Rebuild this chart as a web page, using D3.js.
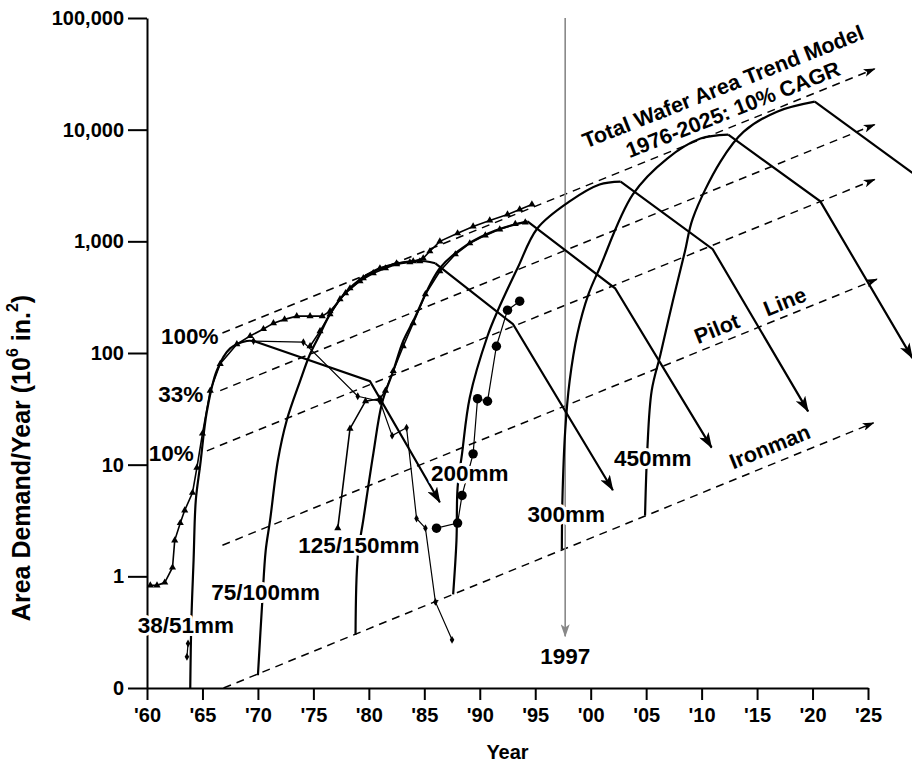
<!DOCTYPE html>
<html>
<head>
<meta charset="utf-8">
<script src="https://cdn.jsdelivr.net/npm/d3@7"></script>
<style>
  body { margin: 0; background: #fff; }
  text { font-family: "Liberation Sans", Arial, Helvetica, sans-serif; font-weight: bold; fill: #000; }
</style>
</head>
<body>
<div id="chart"></div>
<script>
// ---- data (year, area demand in 10^6 in.^2) ----
var yearTicks = [1960, 1965, 1970, 1975, 1980, 1985, 1990, 1995, 2000, 2005, 2010, 2015, 2020, 2025];
var yearLabels = ["'60", "'65", "'70", "'75", "'80", "'85", "'90", "'95", "'00", "'05", "'10", "'15", "'20", "'25"];
var valueTicks = [0.1, 1, 10, 100, 1000, 10000, 100000];
var valueLabels = ["0", "1", "10", "100", "1,000", "10,000", "100,000"];

// dashed 10% CAGR trend lines: start and end points
var trendNames = ["100%", "33%", "10%", "Pilot Line", "Ironman"];
var trendStart = [[1966.8, 151], [1966.6, 46], [1965.4, 13.3], [1966.8, 1.9], [1966.9, 0.1]];
var trendEnd = [[2025.6, 35000], [2025.6, 11100], [2025.6, 3580], [2025.8, 458], [2025.5, 23.7]];

// total wafer area (upper envelope, markers)
var totalData = [[1960.3, 0.83], [1960.9, 0.83], [1961.6, 0.88], [1962.3, 1.2], [1962.5, 2.1], [1963.0, 3.0],
  [1963.4, 3.9], [1964.1, 5.6], [1964.5, 9.4], [1965.0, 19], [1965.7, 46], [1966.6, 80], [1968.1, 120],
  [1969.3, 142], [1970.5, 164], [1971.4, 185], [1972.4, 200], [1973.5, 214], [1974.7, 214], [1975.8, 214],
  [1976.5, 237], [1977.9, 343], [1979.5, 468], [1981.0, 574], [1982.5, 636], [1984.0, 663], [1984.9, 705],
  [1985.5, 815], [1986.4, 1000], [1988.0, 1180], [1989.4, 1360], [1990.9, 1540], [1992.5, 1740],
  [1993.6, 1930], [1994.7, 2140]];

// model curves (rise) per wafer size
var rise3851 = [[1963.9, 0.1], [1964.0, 0.4], [1964.2, 1.4], [1964.4, 4.8], [1964.8, 10], [1965.4, 30],
  [1966.3, 70], [1967.5, 110], [1969.0, 128], [1969.6, 128]];
var rise75100 = [[1970.0, 0.13], [1970.4, 0.61], [1970.7, 1.7], [1971.1, 3.2], [1971.8, 10.9], [1972.6, 25],
  [1973.8, 56], [1974.7, 98], [1975.6, 148], [1976.5, 223], [1978.0, 358], [1980.4, 540], [1983.1, 649],
  [1985.1, 663], [1986.0, 636]];
var rise125150 = [[1978.8, 0.3], [1979.0, 1.5], [1979.5, 3.2], [1980.4, 12.5], [1981.2, 36], [1982.2, 69],
  [1983.1, 128], [1984.0, 193], [1986.4, 574], [1988.9, 940], [1991.4, 1250], [1994.3, 1510]];
var rise200 = [[1987.6, 0.69], [1987.9, 2.1], [1988.0, 6.2], [1988.4, 12.5], [1989.1, 40], [1990.7, 142],
  [1991.6, 237], [1993.4, 574], [1995.2, 1310], [1998.1, 2280], [2000.8, 3230], [2002.7, 3430]];
var rise300 = [[1997.4, 1.74], [1997.45, 4.8], [1997.7, 20], [1998.1, 56], [1998.8, 148], [1999.8, 336],
  [2000.8, 574], [2003.8, 2630], [2006.9, 5510], [2009.9, 8320], [2012.4, 9020]];
var rise450 = [[2004.9, 3.5], [2005.1, 13.3], [2005.5, 46], [2006.3, 98], [2007.4, 291], [2008.5, 815],
  [2009.2, 1600], [2011.7, 5180], [2013.8, 9600], [2016.8, 14500], [2020.2, 17800]];

// projected decline per wafer size
var fall3851 = [[1969.6, 128], [1980.1, 56], [1986.4, 4.6]];
var fall75100 = [[1986.0, 636], [1993.0, 181], [2002.0, 5.9]];
var fall125150 = [[1994.3, 1510], [2002.2, 380], [2010.9, 14.2]];
var fall200 = [[2002.7, 3430], [2011.0, 850], [2019.6, 30]];
var fall300 = [[2012.4, 9020], [2020.7, 2280], [2029.0, 90]];
var fall450 = [[2020.2, 17800], [2029.0, 4100]];

// actual data with markers
var data3851Start = [[1963.6, 0.19], [1963.7, 0.25]];
var data3851 = [[1969.6, 128], [1974.1, 125], [1979.0, 41], [1981.0, 37], [1982.1, 18.2], [1983.4, 21.4],
  [1984.3, 3.3], [1985.1, 2.7], [1986.0, 0.59], [1987.5, 0.27]];
var data75100 = [[1974.7, 115], [1975.6, 157], [1976.5, 223], [1977.4, 303], [1978.3, 380], [1979.2, 440],
  [1980.4, 518], [1981.5, 574], [1982.5, 625], [1983.7, 649], [1984.6, 663]];
var data125150 = [[1977.2, 2.7], [1978.3, 21], [1979.7, 37], [1981.0, 39], [1981.5, 46], [1982.2, 69],
  [1983.1, 115], [1984.0, 185], [1985.1, 336], [1986.4, 540], [1987.8, 766], [1989.1, 960], [1990.5, 1130],
  [1991.8, 1280], [1993.2, 1430], [1994.1, 1480]];
var data200 = [[1986.1, 2.7], [1988.0, 3.0], [1988.4, 5.3], [1989.4, 12.5], [1989.8, 39], [1990.7, 37],
  [1991.5, 115], [1992.5, 242], [1993.6, 291]];

var markYear = 1997.7;

// ---- chart ----
var svgWidth = 912;
var svgHeight = 765;
var margin = { top: 18, right: 44, bottom: 77, left: 147 };
var width = svgWidth - margin.left - margin.right;
var height = svgHeight - margin.top - margin.bottom;

var svg = d3.select("#chart")
  .append("svg")
  .attr("width", svgWidth)
  .attr("height", svgHeight);

var defs = svg.append("defs");
function arrowMarker(id, w, h, color) {
  defs.append("marker")
    .attr("id", id)
    .attr("viewBox", "0 0 " + w + " " + h)
    .attr("refX", w - 1)
    .attr("refY", h / 2)
    .attr("markerWidth", w)
    .attr("markerHeight", h)
    .attr("markerUnits", "userSpaceOnUse")
    .attr("orient", "auto")
    .append("path")
    .attr("d", "M0,0 L" + w + "," + (h / 2) + " L0," + h + " L" + (w * 0.25) + "," + (h / 2) + " Z")
    .attr("fill", color);
}
arrowMarker("arrowBig", 16, 11, "#000");
arrowMarker("arrowSmall", 12, 8, "#000");
arrowMarker("arrowGray", 13, 9, "#888");

var chartGroup = svg.append("g")
  .attr("transform", `translate(${margin.left}, ${margin.top})`);

var x = d3.scaleLinear().domain([1960, 2025]).range([0, width]);
var y = d3.scaleLog().domain([0.1, 100000]).range([height, 0]);

// axes
var bottomAxis = d3.axisBottom(x)
  .tickValues(yearTicks)
  .tickFormat((d, i) => yearLabels[i])
  .tickSize(12)
  .tickSizeOuter(0)
  .tickPadding(8);
var leftAxis = d3.axisLeft(y)
  .tickValues(valueTicks)
  .tickFormat((d, i) => valueLabels[i])
  .tickSize(19)
  .tickSizeOuter(0)
  .tickPadding(4);

var xAxisG = chartGroup.append("g")
  .attr("transform", `translate(0, ${height})`)
  .call(bottomAxis);
var yAxisG = chartGroup.append("g")
  .call(leftAxis);

[xAxisG, yAxisG].forEach(function (g) {
  g.selectAll("path, line").attr("stroke", "#000").attr("stroke-width", 2);
  g.selectAll("text").attr("font-size", 20).attr("font-family", null);
});

// axis titles
chartGroup.append("text")
  .attr("transform", `translate(${width / 2 + 0}, ${height + 71})`)
  .attr("text-anchor", "middle")
  .attr("font-size", 20)
  .text("Year");

var yTitle = chartGroup.append("text")
  .attr("transform", `translate(${21 - margin.left}, ${458 - margin.top}) rotate(-90)`)
  .attr("text-anchor", "middle")
  .attr("dominant-baseline", "central")
  .attr("font-size", 25);
yTitle.append("tspan").text("Area Demand/Year (10");
yTitle.append("tspan").attr("font-size", 16).attr("baseline-shift", "super").text("6");
yTitle.append("tspan").text(" in.");
yTitle.append("tspan").attr("font-size", 16).attr("baseline-shift", "super").text("2");
yTitle.append("tspan").text(")");

// dashed trend lines
var straight = d3.line().x(d => x(d[0])).y(d => y(d[1]));
var smooth = d3.line().x(d => x(d[0])).y(d => y(d[1])).curve(d3.curveCatmullRom.alpha(0.5));

trendStart.forEach(function (s, i) {
  chartGroup.append("path")
    .attr("d", straight([s, trendEnd[i]]))
    .attr("fill", "none")
    .attr("stroke", "#000")
    .attr("stroke-width", 1.5)
    .attr("stroke-dasharray", "8,6")
    .attr("marker-end", "url(#arrowSmall)");
});

// 1997 marker line
chartGroup.append("path")
  .attr("d", straight([[markYear, 100000], [markYear, 0.29]]))
  .attr("stroke", "#888")
  .attr("stroke-width", 1.6)
  .attr("marker-end", "url(#arrowGray)");

// model rise curves
[rise3851, rise75100, rise125150, rise200, rise300, rise450].forEach(function (s) {
  chartGroup.append("path")
    .attr("d", smooth(s))
    .attr("fill", "none")
    .attr("stroke", "#000")
    .attr("stroke-width", 2.2);
});

// decline lines with arrows
[fall3851, fall75100, fall125150, fall200, fall300].forEach(function (s) {
  chartGroup.append("path")
    .attr("d", straight(s))
    .attr("fill", "none")
    .attr("stroke", "#000")
    .attr("stroke-width", 2.2)
    .attr("marker-end", "url(#arrowBig)");
});
chartGroup.append("path")
  .attr("d", straight(fall450))
  .attr("fill", "none")
  .attr("stroke", "#000")
  .attr("stroke-width", 2.2);

// data series with markers
function dataSeries(s, symbol, size, lw) {
  chartGroup.append("path")
    .attr("d", straight(s))
    .attr("fill", "none")
    .attr("stroke", "#000")
    .attr("stroke-width", lw);
  chartGroup.append("g").selectAll("path")
    .data(s)
    .enter()
    .append("path")
    .attr("transform", d => `translate(${x(d[0])}, ${y(d[1])})`)
    .attr("d", d3.symbol().type(symbol).size(size))
    .attr("fill", "#000");
}
dataSeries(totalData, d3.symbolTriangle, 22, 1.6);
dataSeries(data75100, d3.symbolTriangle, 22, 1.6);
dataSeries(data125150, d3.symbolTriangle, 22, 1.6);
dataSeries(data3851Start, d3.symbolDiamond, 18, 1.2);
dataSeries(data3851, d3.symbolDiamond, 18, 1.2);
dataSeries(data200, d3.symbolCircle, 70, 1.2);

// labels with white halo
function halo(sel) {
  return sel.attr("stroke", "#fff").attr("stroke-width", 6).attr("paint-order", "stroke")
    .attr("stroke-linejoin", "round");
}
var sizeLabels = [
  ["38/51mm", 1963.5, 0.36],
  ["75/100mm", 1970.7, 0.72],
  ["125/150mm", 1979.1, 1.89],
  ["200mm", 1989.1, 8.3],
  ["300mm", 1997.8, 3.6],
  ["450mm", 2005.6, 11.3],
  ["1997", 1997.7, 0.19]
];
sizeLabels.forEach(function (l) {
  halo(chartGroup.append("text"))
    .attr("x", x(l[1]))
    .attr("y", y(l[2]))
    .attr("text-anchor", "middle")
    .attr("dominant-baseline", "central")
    .attr("font-size", 22.5)
    .text(l[0]);
});

// trend line labels
[[0, -4, 3], [1, -17, 4], [2, -13, 3]].forEach(function (t) {
  var s = trendStart[t[0]];
  chartGroup.append("text")
    .attr("x", x(s[0]) + t[1])
    .attr("y", y(s[1]) + t[2])
    .attr("text-anchor", "end")
    .attr("dominant-baseline", "central")
    .attr("font-size", 22.5)
    .text(trendNames[t[0]]);
});

function rotLabel(txt, px, py, ang) {
  chartGroup.append("text")
    .attr("transform", `translate(${px - margin.left}, ${py - margin.top}) rotate(${ang})`)
    .attr("text-anchor", "middle")
    .attr("dominant-baseline", "central")
    .attr("font-size", 21.5)
    .text(txt);
}
rotLabel("Total Wafer Area Trend Model", 723, 87, -21.5);
rotLabel("1976-2025: 10% CAGR", 733, 110, -21.5);
rotLabel("Pilot", 717, 329, -22);
rotLabel("Line", 785, 302, -22);
rotLabel("Ironman", 770, 447, -22);
</script>
</body>
</html>
